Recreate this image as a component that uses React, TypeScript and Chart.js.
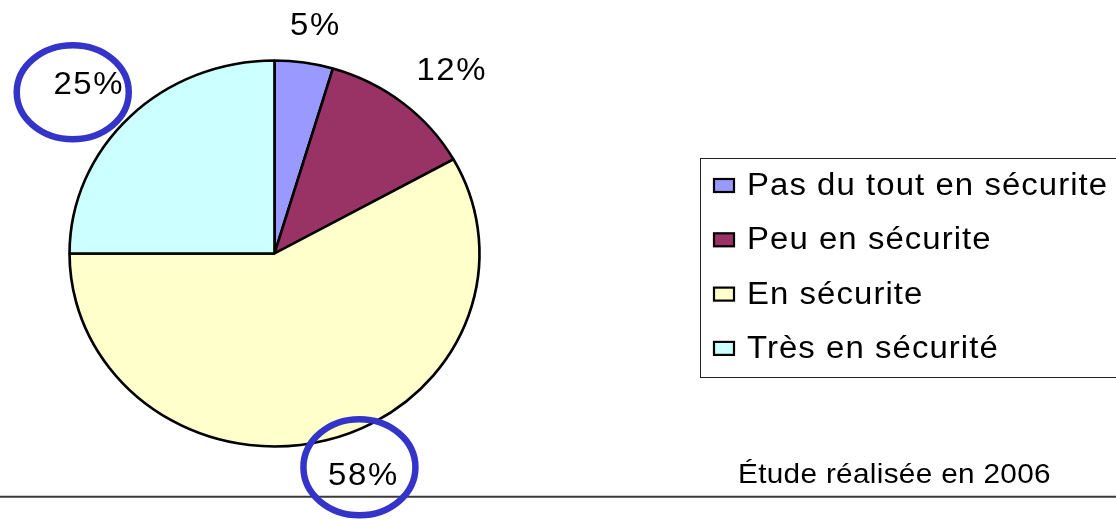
import React, { useEffect, useRef } from "react";
import { Chart, registerables } from "chart.js";

Chart.register(...registerables);

// ---- data ----
const categories = [
  "Pas du tout en sécurite",
  "Peu en sécurite",
  "En sécurite",
  "Très en sécurité",
];
const shares = [4.6, 12.3, 58.1, 25.0];
const sliceColors = ["#9999FF", "#993366", "#FFFFCC", "#CCFFFF"];
const footnote = "Étude réalisée en 2006";
const circledSlices = [3, 2];

// ---- style helpers ----
const SX = 1.062; // horizontal stretch of the original picture
const FONT = '"Liberation Sans", Arial, Helvetica, sans-serif';

function stretchedText(
  ctx: CanvasRenderingContext2D,
  text: string,
  x: number,
  y: number,
  size: number,
  align: "left" | "center",
  spacing: number
) {
  ctx.save();
  ctx.font = `${size}px ${FONT}`;
  (ctx as any).letterSpacing = `${spacing}px`;
  ctx.textAlign = "left";
  ctx.textBaseline = "alphabetic";
  const w = ctx.measureText(text).width;
  const x0 = align === "center" ? x - (w * SX) / 2 : x;
  ctx.translate(x0, y);
  ctx.scale(SX, 1);
  ctx.fillStyle = "#000";
  ctx.fillText(text, 0, 0);
  ctx.restore();
}

const stretchPlugin = {
  id: "stretchPie",
  beforeDatasetsDraw(chart: any) {
    const arc = chart.getDatasetMeta(0).data[0];
    const ctx = chart.ctx;
    ctx.save();
    ctx.translate(arc.x, arc.y);
    ctx.scale(SX, 1);
    ctx.translate(-arc.x, -arc.y);
  },
  afterDatasetsDraw(chart: any) {
    chart.ctx.restore();
  },
};

const labelNudges = [
  [5, 6],
  [21, 1],
  [26, -10],
  [-9, -2],
];
const circleShape: Record<number, number[]> = {
  3: [-16, 9, 56, 47],
  2: [-4, -6.6, 56, 48],
};

const overlayPlugin = {
  id: "overlay",
  afterDraw(chart: any) {
    const ctx: CanvasRenderingContext2D = chart.ctx;
    const meta = chart.getDatasetMeta(0);
    const values: number[] = chart.data.datasets[0].data;
    const total = values.reduce((a, b) => a + b, 0);
    const centers: { x: number; y: number }[] = [];

    // percentage labels outside the slices
    meta.data.forEach((arc: any, i: number) => {
      const p = arc.getProps(["x", "y", "startAngle", "endAngle", "outerRadius"], true);
      const mid = (p.startAngle + p.endAngle) / 2;
      const cx = p.x + (p.outerRadius * SX + 45) * Math.cos(mid) + labelNudges[i][0];
      const cy = p.y + (p.outerRadius + 45) * Math.sin(mid) + labelNudges[i][1];
      centers[i] = { x: cx, y: cy };
      const txt = Math.round((values[i] / total) * 100) + "%";
      stretchedText(ctx, txt, cx, cy + 11, 31, "center", 1.5);
    });

    // legend box
    ctx.save();
    ctx.strokeStyle = "#222";
    ctx.lineWidth = 1;
    ctx.strokeRect(700.5, 158.5, 440, 219);
    ctx.restore();
    const labels: string[] = chart.data.labels;
    const colors: string[] = chart.data.datasets[0].backgroundColor;
    labels.forEach((name, i) => {
      const base = 195 + i * 54.3;
      ctx.save();
      ctx.fillStyle = colors[i];
      ctx.fillRect(714, base - 16, 20, 13);
      ctx.strokeStyle = "#000";
      ctx.lineWidth = 2.2;
      ctx.strokeRect(714, base - 16, 20, 13);
      ctx.restore();
      stretchedText(ctx, name, 747, base, 31, "left", 1);
    });

    // footnote
    stretchedText(ctx, footnote, 738, 483.3, 28, "left", 0.3);

    // bottom rule
    ctx.save();
    ctx.strokeStyle = "#3a3a3a";
    ctx.lineWidth = 2;
    ctx.beginPath();
    ctx.moveTo(0, 496.7);
    ctx.lineTo(chart.width, 496.7);
    ctx.stroke();
    ctx.restore();

    // highlight ellipses
    circledSlices.forEach((i) => {
      const c = centers[i];
      const s = circleShape[i];
      if (!c || !s) return;
      ctx.save();
      ctx.strokeStyle = "#3434C8";
      ctx.lineWidth = 6.5;
      ctx.beginPath();
      ctx.ellipse(c.x + s[0], c.y + s[1], s[2], s[3], 0, 0, Math.PI * 2);
      ctx.stroke();
      ctx.restore();
    });
  },
};

export default function App() {
  const ref = useRef<HTMLCanvasElement | null>(null);

  useEffect(() => {
    document.body.style.margin = "0";
    const canvas = ref.current;
    if (!canvas) return;
    const chart = new Chart(canvas, {
      type: "pie",
      data: {
        labels: categories,
        datasets: [
          {
            data: shares,
            backgroundColor: sliceColors,
            borderColor: "#000",
            borderWidth: 2.5,
            clip: false as any,
          },
        ],
      },
      options: {
        responsive: false,
        animation: false,
        radius: 193,
        layout: { padding: { left: 0, top: 0, right: 567, bottom: 14 } },
        plugins: {
          legend: { display: false },
          tooltip: { enabled: false },
          title: { display: false },
        },
        events: [],
      } as any,
      plugins: [stretchPlugin, overlayPlugin],
    });
    return () => chart.destroy();
  }, []);

  return (
    <div style={{ width: 1116, height: 521, background: "#fff" }}>
      <canvas ref={ref} width={1116} height={521} style={{ display: "block" }} />
    </div>
  );
}
